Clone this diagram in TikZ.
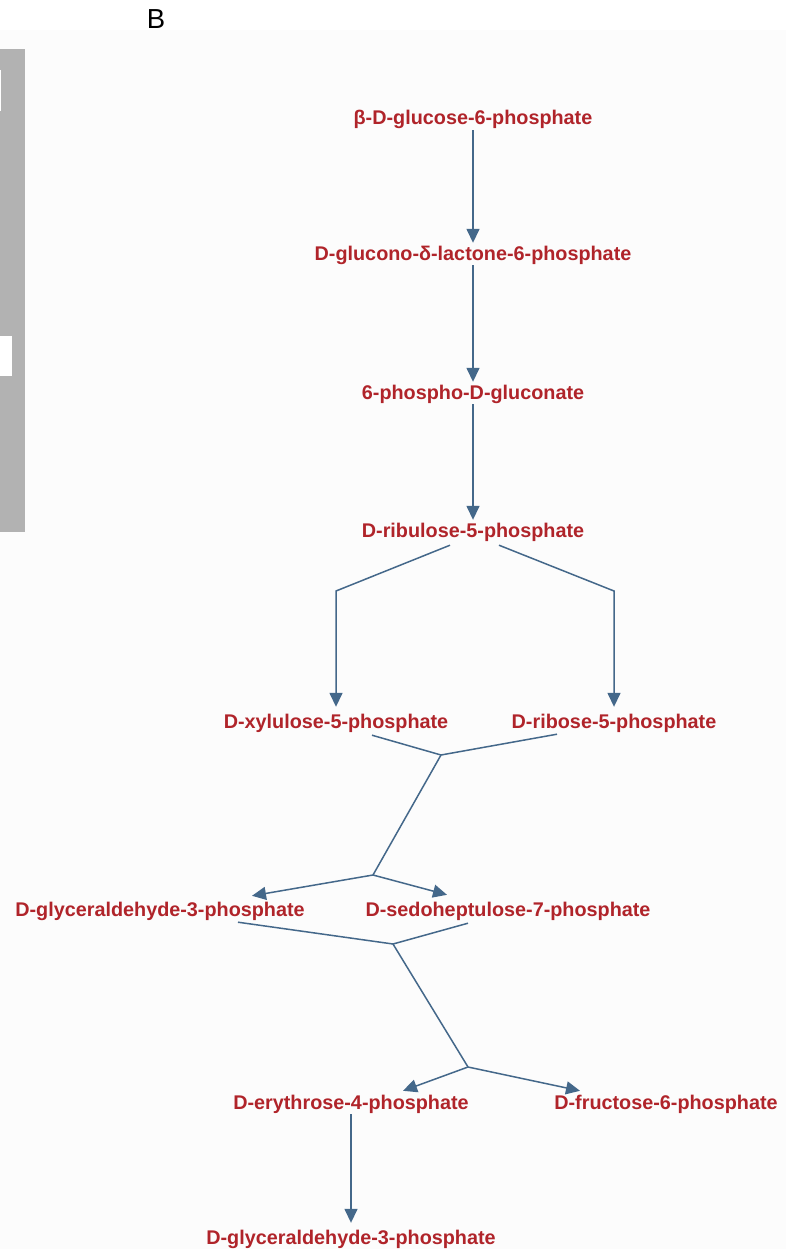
\documentclass[tikz,border=0pt]{standalone}
\usepackage{fontspec}
\setmainfont{Liberation Sans}
\usetikzlibrary{calc,positioning,arrows.meta}
\definecolor{metred}{RGB}{176,36,42}
\definecolor{linkblue}{RGB}{68,104,138}
\definecolor{panelgray}{RGB}{178,178,178}
\definecolor{paper}{RGB}{252,252,252}

\begin{document}
\begin{tikzpicture}[x=1pt,y=-1pt,
  met/.style={anchor=base,inner sep=0pt,text height=14pt,text depth=5pt,
    text=metred,font=\fontsize{19.8}{22}\selectfont\bfseries},
  lnk/.style={draw=linkblue,line width=1.5pt},
  arr/.style={lnk,-{Triangle[length=14pt,width=13pt]},shorten >=3pt}]
\useasboundingbox (0,0) rectangle (786,1249);
% background and side panel
\fill[white] (0,0) rectangle (786,30);
\fill[paper] (0,30) rectangle (786,1249);
\fill[panelgray] (0,49) rectangle (25,532);
\fill[white] (0,70) rectangle (1,111);
\fill[white] (0,336) rectangle (12,376);
\node[font=\fontsize{27.5}{30}\selectfont] (lbl) at (156,19) {B};
% metabolites
\node[met] (G6P) at (473,125) {β-D-glucose-6-phosphate};
\node[met] (GL6P) at (473,260) {D-glucono-δ-lactone-6-phosphate};
\node[met] (PG6) at (473,399) {6-phospho-D-gluconate};
\node[met] (Ru5P) at (473,537) {D-ribulose-5-phosphate};
\node[met] (Xu5P) at (336,728) {D-xylulose-5-phosphate};
\node[met] (R5P) at (614,728) {D-ribose-5-phosphate};
\node[met] (GAP) at (160,916) {D-glyceraldehyde-3-phosphate};
\node[met] (S7P) at (508,916) {D-sedoheptulose-7-phosphate};
\node[met] (E4P) at (351,1109) {D-erythrose-4-phosphate};
\node[met] (F6P) at (666,1109) {D-fructose-6-phosphate};
\node[met] (GAP2) at (351,1244) {D-glyceraldehyde-3-phosphate};
% bends and junctions
\coordinate (r1) at (336,591);
\coordinate (r2) at (614,591);
\coordinate (j1) at (441,755);
\coordinate (j2) at (373,875);
\coordinate (j3) at (393,944);
\coordinate (j4) at (468,1067);
% oxidative branch
\draw[arr] (G6P.south) -- (GL6P.north);
\draw[arr] (GL6P.south) -- (PG6.north);
\draw[arr] (PG6.south) -- (Ru5P.north);
% split of ribulose-5-phosphate
\draw[arr,shorten >=7pt] ($(Ru5P.south)+(-23,3)$) -- (r1) -- (Xu5P.north);
\draw[arr,shorten >=7pt] ($(Ru5P.south)+(26,3)$) -- (r2) -- (R5P.north);
% transketolase
\draw[lnk] ($(Xu5P.south)+(36,2)$) -- (j1);
\draw[lnk] ($(R5P.south)+(-57,1)$) -- (j1);
\draw[lnk] (j1) -- (j2);
\draw[arr,shorten >=0pt] (j2) -- ($(GAP.north)+(92,-6)$);
\draw[arr,shorten >=0pt] (j2) -- ($(S7P.north)+(-61,-7)$);
% transaldolase
\draw[lnk] ($(GAP.south)+(78,1)$) -- (j3);
\draw[lnk] ($(S7P.south)+(-40,2)$) -- (j3);
\draw[lnk] (j3) -- (j4);
\draw[arr,shorten >=0pt] (j4) -- ($(E4P.north)+(52,-4)$);
\draw[arr,shorten >=0pt] (j4) -- ($(F6P.north)+(-86,-4)$);
% last step
\draw[arr,shorten >=7pt] (E4P.south) -- (GAP2.north);
\end{tikzpicture}
\end{document}
